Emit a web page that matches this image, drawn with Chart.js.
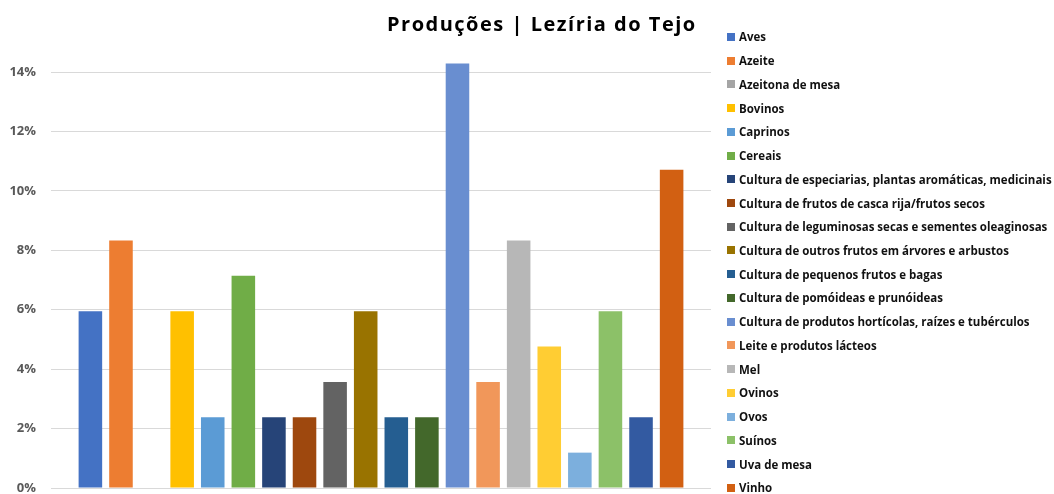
<!DOCTYPE html>
<html lang="pt">
<head>
<meta charset="utf-8">
<title>Produções | Lezíria do Tejo</title>
<script src="https://cdn.jsdelivr.net/npm/chart.js@4"></script>
<style>
  html, body { margin: 0; padding: 0; background: #ffffff; }
  #wrap { position: relative; width: 1054px; height: 494px; overflow: hidden; background: #ffffff; }
  #chart { position: absolute; left: 0; top: 0; }
  #title {
    position: absolute; left: 387px; top: 9.5px; margin: 0; line-height: normal;
    font: bold 20px "Open Sans", sans-serif; letter-spacing: 1.5px; color: #000000; white-space: nowrap;
  }
  #legend { position: absolute; left: 727px; top: 25px; margin: 0; padding: 0; list-style: none; }
  #legend li {
    display: flex; align-items: center; height: 23.74px; white-space: nowrap;
    font: bold 11.5px "Open Sans", sans-serif; color: #111111;
  }
  #legend li span.box { display: inline-block; width: 8px; height: 8px; margin-right: 4px; flex: none; }
</style>
</head>
<body>
<div id="wrap">
  <canvas id="chart" width="1054" height="494"></canvas>
  <h1 id="title">Produções | Lezíria do Tejo</h1>
  <ul id="legend"></ul>
</div>
<script>
// Production types in the Lezíria do Tejo region
const categories = [
  'Aves',
  'Azeite',
  'Azeitona de mesa',
  'Bovinos',
  'Caprinos',
  'Cereais',
  'Cultura de especiarias, plantas aromáticas, medicinais',
  'Cultura de frutos de casca rija/frutos secos',
  'Cultura de leguminosas secas e sementes oleaginosas',
  'Cultura de outros frutos em árvores e arbustos',
  'Cultura de pequenos frutos e bagas',
  'Cultura de pomóideas e prunóideas',
  'Cultura de produtos hortícolas, raízes e tubérculos',
  'Leite e produtos lácteos',
  'Mel',
  'Ovinos',
  'Ovos',
  'Suínos',
  'Uva de mesa',
  'Vinho'
];

// Share of each production (%)
const shares = [5.95, 8.33, 0, 5.95, 2.38, 7.14, 2.38, 2.38, 3.57, 5.95,
                2.38, 2.38, 14.29, 3.57, 8.33, 4.76, 1.19, 5.95, 2.38, 10.71];

const seriesColors = [
  '#4472C4', '#ED7D31', '#A5A5A5', '#FFC000', '#5B9BD5', '#70AD47',
  '#264478', '#9E480E', '#636363', '#997300', '#255E91', '#43682B',
  '#698ED0', '#F1975A', '#B7B7B7', '#FFCD33', '#7CAFDD', '#8CC168',
  '#335AA1', '#D26012'
];

const yTickValues = [0, 2, 4, 6, 8, 10, 12, 14];

const datasets = categories.map((name, i) => ({
  label: name,
  data: [shares[i]],
  backgroundColor: seriesColors[i],
  borderWidth: 0,
  clip: false,
  categoryPercentage: 0.927,
  barPercentage: 0.77
}));

// Builds the side legend as an HTML list from the chart's own legend items
const htmlLegend = {
  id: 'htmlLegend',
  afterUpdate(chart) {
    const ul = document.getElementById('legend');
    ul.innerHTML = '';
    const items = chart.options.plugins.legend.labels.generateLabels(chart);
    items.forEach(item => {
      const li = document.createElement('li');
      const box = document.createElement('span');
      box.className = 'box';
      box.style.background = item.fillStyle;
      const txt = document.createElement('span');
      txt.textContent = item.text;
      li.appendChild(box);
      li.appendChild(txt);
      ul.appendChild(li);
    });
  }
};

new Chart(document.getElementById('chart'), {
  type: 'bar',
  data: { labels: [''], datasets },
  options: {
    responsive: false,
    animation: false,
    layout: { padding: { left: 9, right: 343, top: 72, bottom: 6 } },
    plugins: {
      legend: { display: false },
      title: { display: false },
      tooltip: { enabled: false }
    },
    scales: {
      x: {
        display: true,
        ticks: { display: false },
        grid: { display: false },
        border: { display: false },
        afterFit(scale) {
          scale.height = 0;
        }
      },
      y: {
        min: 0,
        max: 14,
        afterBuildTicks(scale) {
          scale.ticks = yTickValues.map(v => ({ value: v }));
        },
        afterFit(scale) {
          scale.width = 42;
          scale.paddingTop = 0;
          scale.paddingBottom = 0;
        },
        ticks: {
          padding: 15,
          color: '#595959',
          font: { family: 'Open Sans', size: 13, weight: 'bold' },
          callback: v => v + '%'
        },
        grid: { color: '#D9D9D9', lineWidth: 1, drawTicks: false },
        border: { display: false }
      }
    }
  },
  plugins: [htmlLegend]
});
</script>
</body>
</html>
